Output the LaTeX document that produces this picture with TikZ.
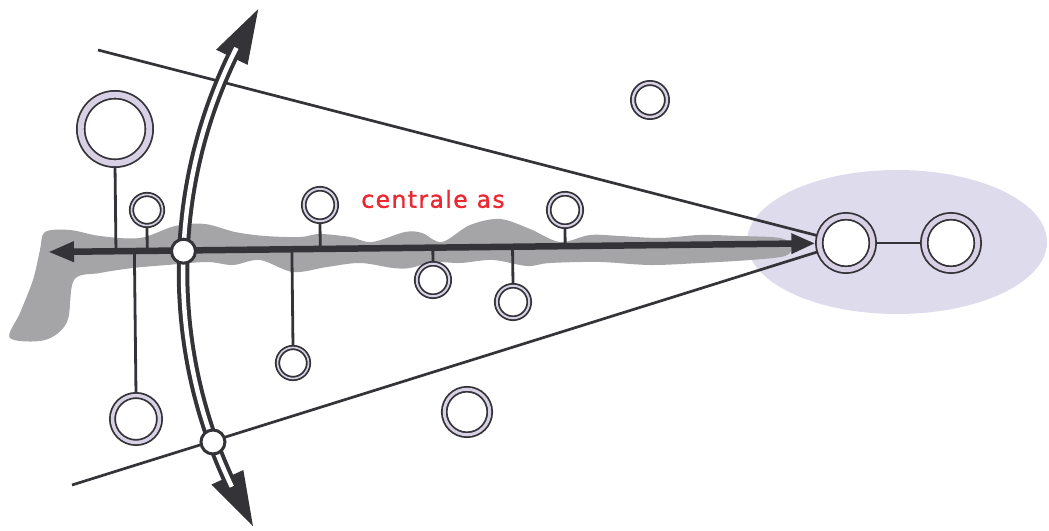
\documentclass[tikz,border=0pt]{standalone}
\usepackage{fontspec}
\newfontfamily\labelfont[LetterSpace=6,FakeBold=1.2]{DejaVu Sans}
\usetikzlibrary{arrows.meta,calc}
\definecolor{dk}{RGB}{52,52,56}
\definecolor{lav}{RGB}{216,209,230}
\definecolor{ell}{RGB}{221,219,236}
\definecolor{terrain}{RGB}{165,165,168}
\definecolor{lbl}{RGB}{235,40,50}
\pgfdeclarelayer{bg}
\pgfsetlayers{bg,main}
\tikzset{
  ring/.style 2 args={circle, draw=dk, double=lav, double distance=#2, line width=1.8pt, fill=white, minimum size=#1, inner sep=0pt},
  joint/.style={circle, draw=dk, fill=white, line width=3pt, minimum size=24pt, inner sep=0pt},
  stem/.style={draw=dk, line width=2.8pt},
  cone/.style={draw=dk, line width=2.7pt},
  axisline/.style={draw=dk, line width=6.5pt, {Triangle[length=26pt,width=19pt]}-{Triangle[length=24pt,width=19pt]}},
  arcline/.style={draw=dk, double=white, double distance=4.5pt, line width=4pt},
  arctip/.style={fill=dk},
  terrainfill/.style={fill=terrain},
  zone/.style={fill=ell},
  labeltext/.style={text=lbl, font=\labelfont\fontsize{23.5}{27}\selectfont, inner sep=0pt}
}
\begin{document}
\begin{tikzpicture}[x=1pt,y=1pt]
\useasboundingbox (0,0) rectangle (1049,530);
% rings
\node[ring={68.5pt}{5.9pt}] (A) at (115,401) {};
\node[ring={31pt}{1.6pt}] (B) at (147,320) {};
\node[ring={32.5pt}{2pt}] (Cc) at (320,325) {};
\node[ring={32.5pt}{2pt}] (D) at (565,320) {};
\node[ring={34pt}{2.4pt}] (E) at (650,430) {};
\node[ring={32.5pt}{2pt}] (F) at (433,250) {};
\node[ring={32.5pt}{2pt}] (G) at (513,228) {};
\node[ring={31pt}{1.6pt}] (H) at (293,167) {};
\node[ring={47pt}{3.4pt}] (I) at (136,111) {};
\node[ring={45.5pt}{3pt}] (J) at (467,118) {};
\node[ring={53.5pt}{4.9pt}] (K) at (846,287) {};
\node[ring={53.5pt}{4.9pt}] (L) at (951,287) {};
\node[labeltext] (lab) at (433,331) {centrale as};
\coordinate (axL) at (48,278);
\coordinate (axR) at (846,287);
\coordinate (tl) at (98,480);
\coordinate (bl) at (72,45);
\coordinate (Ctr) at (680,258);
% background parts
\begin{pgfonlayer}{bg}
\fill[zone] (897,288) ellipse [x radius=150, y radius=72];
\fill[terrainfill] plot[smooth cycle, tension=0.55] coordinates {
 (45,298) (70,300) (100,294) (140,292) (175,304) (205,306) (235,298) (265,294)
 (300,293) (320,296) (350,293) (372,288) (405,298) (422,297) (442,288) (470,305)
 (500,311) (530,301) (560,288) (590,295) (620,294) (660,292) (700,295) (740,294)
 (780,292) (792,284)
 (785,274) (750,270) (700,267) (650,265) (600,268) (550,267) (527,264) (493,270)
 (460,267) (433,268) (410,262) (393,262) (360,267) (327,263) (293,258) (260,270)
 (233,265) (207,268) (167,265) (133,262) (100,257) (74,250) (67,208) (45,190)
 (10,192) (20,217) (33,250) (40,280)};
\draw[cone] (tl) -- (K);
\draw[cone] (bl) -- (K);
\draw[stem] (A.south) -- ($(axL)!(A.south)!(axR)$);
\draw[stem] (B.south) -- ($(axL)!(B.south)!(axR)$);
\draw[stem] (Cc.south) -- ($(axL)!(Cc.south)!(axR)$);
\draw[stem] (D.south) -- ($(axL)!(D.south)!(axR)$);
\draw[stem] (F.north) -- ($(axL)!(F.north)!(axR)$);
\draw[stem] (G.north) -- ($(axL)!(G.north)!(axR)$);
\draw[stem] (H.north) -- ($(axL)!(H.north)!(axR)$);
\draw[stem] (I.north) -- ($(axL)!(I.north)!(axR)$);
\draw[stem] (K) -- (L);
\draw[axisline, shorten >=3pt] (axL) -- (K);
\end{pgfonlayer}
% curved double arrow
\fill[arctip] ($(Ctr)+(148.07:497pt)$) -- ($(Ctr)+(154.4:479.5pt)$) -- ($(Ctr)+(154.4:514.5pt)$) -- cycle;
\fill[arctip] ($(Ctr)+(210.77:497pt)$) -- ($(Ctr)+(204.4:479.5pt)$) -- ($(Ctr)+(204.4:514.5pt)$) -- cycle;
\draw[arcline] ($(Ctr)+(205.6:497pt)$) arc[start angle=205.6, end angle=153.2, radius=497pt];
\node[joint] (j1) at ($(Ctr)+(177.6:497pt)$) {};
\node[joint] (j2) at ($(Ctr)+(200:497pt)$) {};
\end{tikzpicture}
\end{document}
